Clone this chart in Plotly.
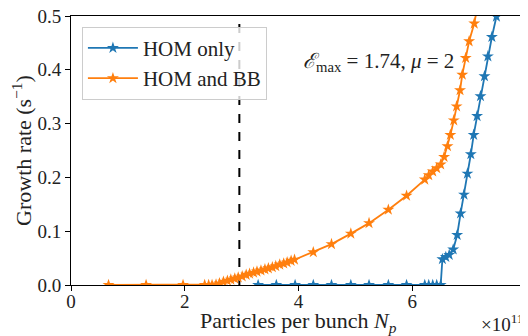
import plotly.graph_objects as go

# Particles per bunch (units of 1e11) and growth rates (1/s)
hom_only_x = [3.29, 3.61, 3.94, 4.26, 4.58, 4.92, 5.24, 5.58, 5.90, 6.22, 6.29, 6.36, 6.43, 6.50,
              6.53, 6.59, 6.65, 6.72, 6.79, 6.85, 6.91, 6.97, 7.03, 7.08, 7.14, 7.20, 7.27,
              7.33, 7.40, 7.48, 7.54]
hom_only_y = [0.0, 0.0, 0.0, 0.0, 0.0, 0.0, 0.0, 0.0, 0.0, 0.0, 0.0, 0.0, 0.0, 0.0,
              0.048, 0.052, 0.056, 0.066, 0.093, 0.133, 0.168, 0.207, 0.243, 0.279, 0.314, 0.351, 0.388,
              0.425, 0.461, 0.499, 0.535]

hom_bb_x = [0.66, 1.32, 1.97, 2.35, 2.42, 2.48, 2.55, 2.61, 2.68, 2.75, 2.81, 2.88, 2.94, 3.01,
            3.08, 3.14, 3.21, 3.27, 3.34, 3.41, 3.47, 3.54, 3.60, 3.67, 3.74, 3.80, 3.87, 3.93,
            4.26, 4.58, 4.92, 5.24, 5.58, 5.90, 6.22, 6.29, 6.36, 6.43, 6.50,
            6.56, 6.62, 6.67, 6.73, 6.78, 6.84, 6.88, 6.94, 7.00, 7.09, 7.15]
hom_bb_y = [0.0, 0.0, 0.0, 0.0, 0.0, 0.0, 0.001, 0.003, 0.006, 0.008, 0.010, 0.012, 0.014, 0.016,
            0.019, 0.021, 0.023, 0.025, 0.027, 0.029, 0.031, 0.033, 0.035, 0.038, 0.040, 0.042, 0.045, 0.047,
            0.061, 0.076, 0.0955, 0.115, 0.140, 0.166, 0.196, 0.204, 0.211, 0.217, 0.224,
            0.238, 0.258, 0.279, 0.306, 0.332, 0.362, 0.391, 0.422, 0.453, 0.486, 0.52]

threshold_x = 2.96
x_ticks = [0, 2, 4, 6, 8]
y_ticks = [0.0, 0.1, 0.2, 0.3, 0.4, 0.5]

BLUE = "#1f77b4"
ORANGE = "#ff7f0e"
FONT = "Liberation Serif"
TXT = "#222222"

fig = go.Figure()
fig.add_trace(go.Scatter(x=hom_only_x, y=hom_only_y, mode="lines+markers", name="HOM only",
                         line=dict(color=BLUE, width=1.8),
                         marker=dict(symbol="star", size=9, color=BLUE)))
fig.add_trace(go.Scatter(x=hom_bb_x, y=hom_bb_y, mode="lines+markers", name="HOM and BB",
                         line=dict(color=ORANGE, width=1.8),
                         marker=dict(symbol="star", size=9, color=ORANGE)))

fig.add_shape(type="line", x0=threshold_x, x1=threshold_x, y0=0, y1=1, xref="x", yref="paper",
              line=dict(color="black", width=2, dash="dash"), layer="below")

fig.add_annotation(x=0.675, y=0.83, xref="paper", yref="paper", showarrow=False,
                   text="<i>ℰ</i><sub>max</sub> = 1.74, <i>μ</i> = 2",
                   font=dict(family=FONT, size=21, color=TXT), xanchor="center", yanchor="middle")
fig.add_annotation(x=1.0, y=-0.14, xref="paper", yref="paper", showarrow=False,
                   text="×10<sup>11</sup>", font=dict(family=FONT, size=19, color=TXT),
                   xanchor="right", yanchor="middle")
# x-axis title
fig.add_annotation(x=0.5, y=-0.138, xref="paper", yref="paper", showarrow=False,
                   text="Particles per bunch <i>N</i><sub><i>p</i></sub>",
                   font=dict(family=FONT, size=22, color=TXT), xanchor="center", yanchor="middle")

axis_common = dict(showline=True, linecolor="black", linewidth=1, mirror=True,
                   ticks="outside", ticklen=5, tickcolor="black", showgrid=False, zeroline=False,
                   ticklabeloverflow="allow",
                   tickfont=dict(family=FONT, size=19, color=TXT))

fig.update_xaxes(range=[0, 8], tickvals=x_ticks, ticktext=[str(v) for v in x_ticks],
                 ticklabelstandoff=-6, **axis_common)
fig.update_yaxes(range=[0, 0.5], tickvals=y_ticks, ticktext=[f"{v:.1f}" for v in y_ticks],
                 title=dict(text="Growth rate (s<sup>−1</sup>)",
                            font=dict(family=FONT, size=22, color=TXT), standoff=4),
                 **axis_common)

# page body has an 8px margin, so shift the plot area to compensate
fig.update_layout(
    width=528, height=336,
    margin=dict(l=63, r=10, t=8, b=59, autoexpand=False),
    plot_bgcolor="white", paper_bgcolor="white",
    showlegend=True,
    legend=dict(x=0.024, y=0.96, xanchor="left", yanchor="top",
                bgcolor="rgba(255,255,255,0.8)", bordercolor="#cccccc", borderwidth=1,
                font=dict(family=FONT, size=21, color=TXT), itemwidth=50,
                tracegroupgap=2),
)

fig.write_html("out.html")
